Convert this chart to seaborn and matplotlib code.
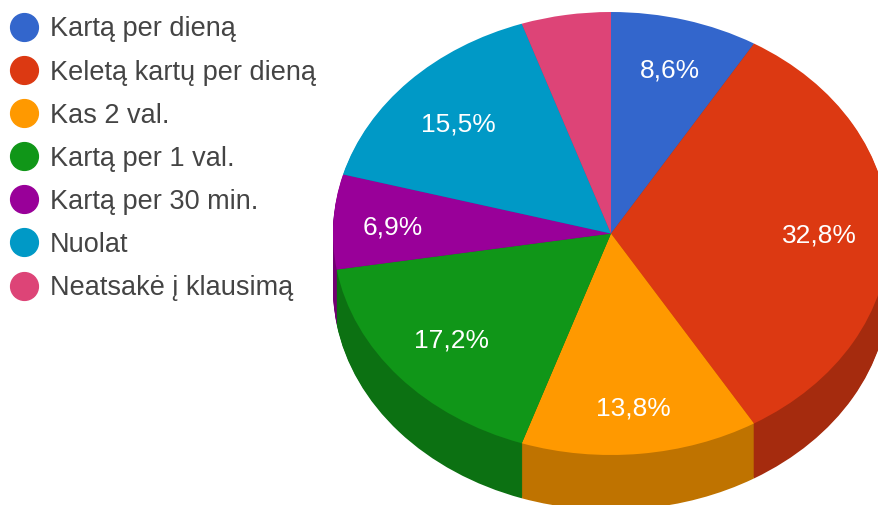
import matplotlib
matplotlib.use("Agg")
import matplotlib.pyplot as plt
from matplotlib.lines import Line2D
import numpy as np
import seaborn as sns

# Data
categories = ["Kartą per dieną", "Keletą kartų per dieną", "Kas 2 val.", "Kartą per 1 val.",
              "Kartą per 30 min.", "Nuolat", "Neatsakė į klausimą"]
shares = [8.6, 32.8, 13.8, 17.2, 6.9, 15.5, 5.2]
hex_colors = ["#3366cc", "#dc3912", "#ff9900", "#109618", "#990099", "#0099c6", "#dd4477"]

# small pixel shifts for the slice labels (x right, y down)
label_nudge = [(3, -1), (-3, 2), (0, 8), (2, -2), (-7, 3), (1, 7), (0, 0)]

sns.set_theme(style="white")
plt.rcParams["font.family"] = ["Liberation Sans", "DejaVu Sans"]

palette = sns.color_palette(hex_colors)
side_colors = [tuple(np.array(c) * 0.75) for c in palette]


def pct_label(p):
    # last slice has no label in the original
    if p < 6:
        return ""
    return f"{p:.1f}".replace(".", ",") + "%"


W, H = 879, 505
cx, cy, rx, ry, depth = 611, 233.5, 278, 221.5, 55

fig = plt.figure(figsize=(W / 100, H / 100), dpi=100)
ax = fig.add_axes([(cx - rx) / W, (H - cy - ry) / H, 2 * rx / W, 2 * ry / H])

# side wall: stack of darker pies, lowest first
for off in range(depth, 0, -1):
    ax.pie(shares, colors=side_colors, startangle=90, counterclock=False,
           center=(0, -off / ry), radius=1, wedgeprops={"linewidth": 0, "clip_on": False})

_, _, autotexts = ax.pie(shares, colors=palette, startangle=90, counterclock=False,
                         autopct=pct_label, pctdistance=0.76,
                         wedgeprops={"linewidth": 0, "clip_on": False},
                         textprops={"color": "white", "fontsize": 19})

for t, (dx, dy) in zip(autotexts, label_nudge):
    x, y = t.get_position()
    t.set_position((x + dx / rx, y - dy / ry))

ax.set_aspect("auto")
ax.set_xlim(-1, 1)
ax.set_ylim(-1, 1)

handles = [Line2D([], [], linestyle="none", marker="o", markersize=20, color=c) for c in palette]
fig.legend(handles, categories, loc="upper left", bbox_to_anchor=(0.0, 0.989), frameon=False,
           fontsize=19.5, labelspacing=0.632, handletextpad=0.45, borderpad=0.4, borderaxespad=0,
           handlelength=1.0, labelcolor="#444444")

plt.savefig("out.png", dpi=100)
plt.close()
